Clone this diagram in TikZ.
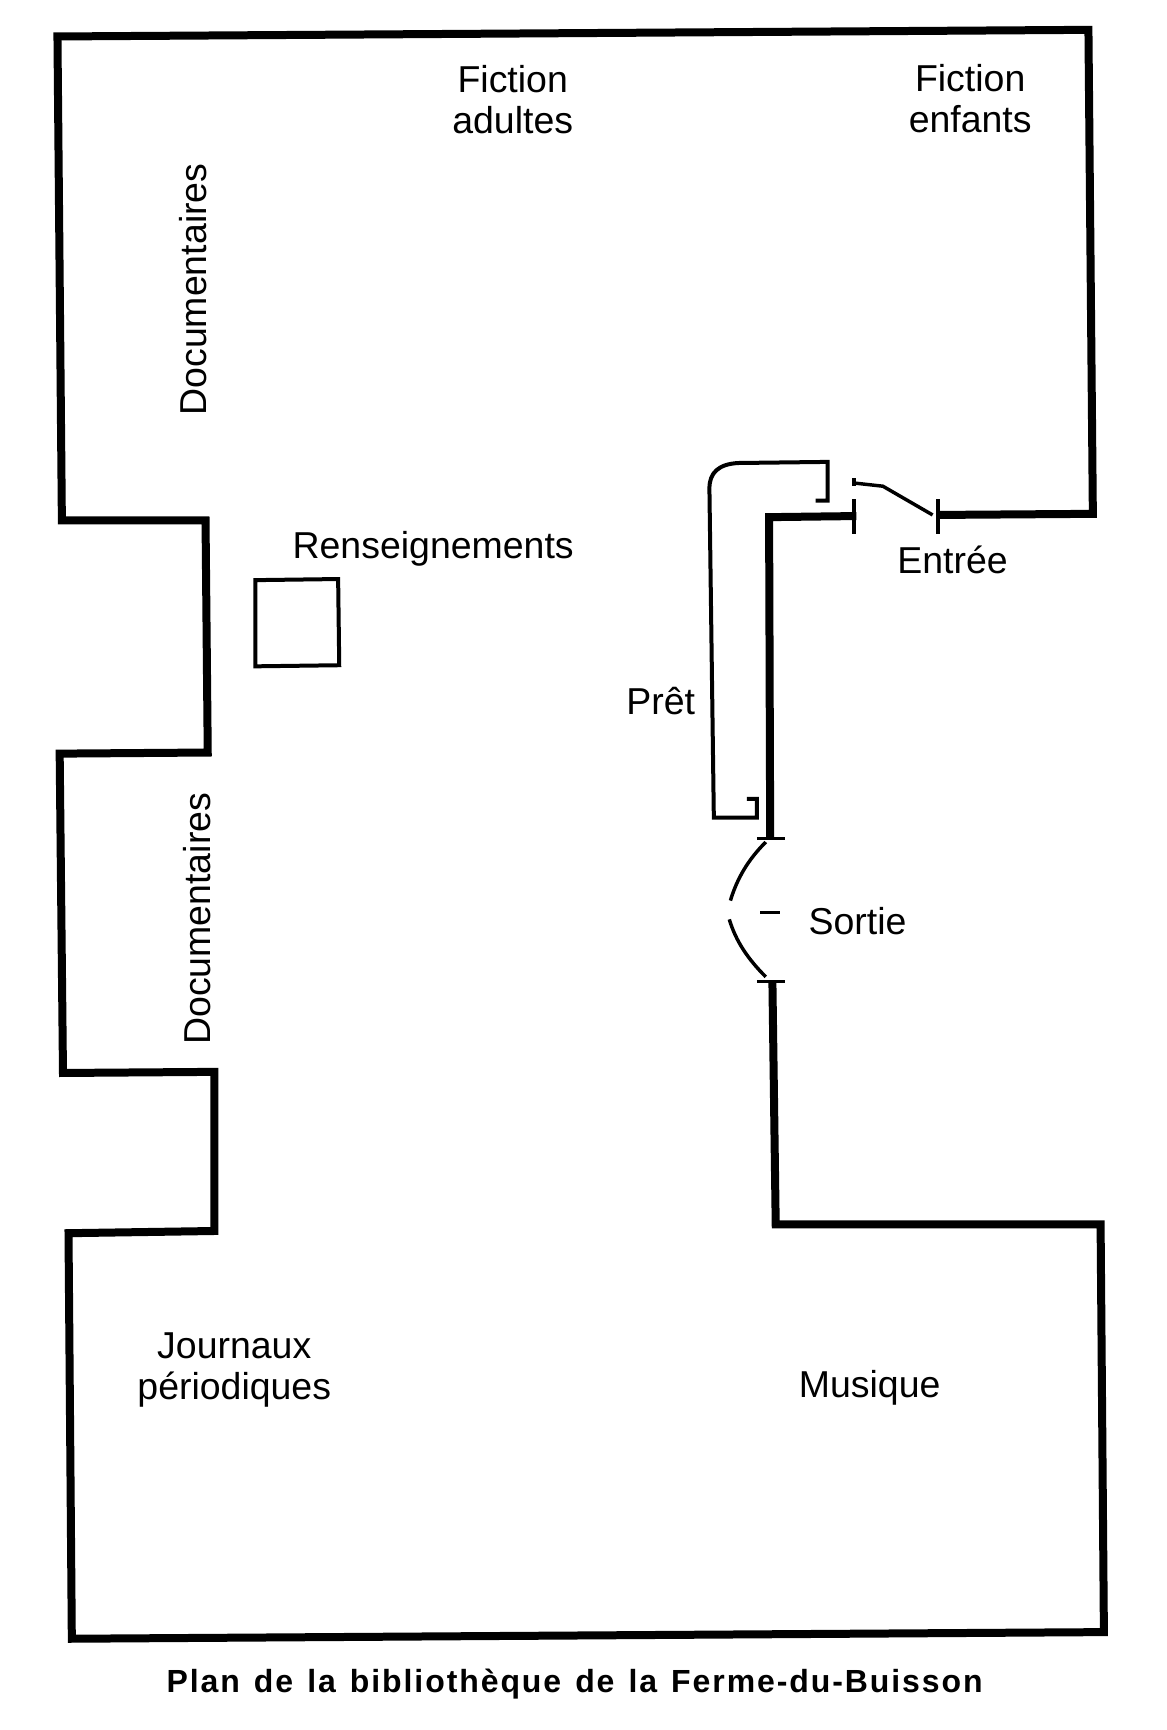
\documentclass[tikz,border=0pt]{standalone}
\usepackage{fontspec}
\setmainfont{Liberation Sans}
\newfontfamily\titlefont[LetterSpace=6,WordSpace=1.3]{Liberation Sans}
\begin{document}
\begin{tikzpicture}[x=0.829pt,y=-0.829pt,
  wall/.style={line width=6pt,miter limit=10},
  wallthin/.style={line width=3pt},
  fine/.style={line width=2.6pt},
  label/.style={font=\fontsize{28.1pt}{31pt}\selectfont,align=center,inner sep=0pt,text=black}]
\useasboundingbox (0,0) rectangle (1056,1565.6);
% outer walls
\draw[wall] (849,466) -- (989,465) -- (985,27) -- (52,33) -- (56,471) -- (186,471) -- (188,681)
  -- (54,682) -- (57,971) -- (194,970) -- (194,1114) -- (62,1116) -- (65,1483) -- (999,1477)
  -- (996,1108) -- (702,1108) -- (699,888);
\draw[wall] (775,467) -- (696,468) -- (697,758);
% door jambs
\draw[fine] (773,452) -- (773,483);
\draw[fine] (849,452) -- (849,483);
\draw[fine] (685,759) -- (710,759);
\draw[fine] (685,888) -- (710,888);
% entrance door
\draw[fine] (773,433) -- (773,440);
\draw[fine] (772,437) -- (799,440) -- (844,466);
% lending desk
\draw[wallthin] (738,453) -- (749,453) -- (749,418) -- (668,419) .. controls (650,420) and (642,428) .. (642,442)
  -- (646,740) -- (685,740) -- (685,723) -- (676,723);
% exit doors
\draw[fine] (693,762) .. controls (677,778) and (667,795) .. (661,815);
\draw[fine] (660,832) .. controls (666,852) and (677,868) .. (693,884);
\draw[fine] (688,826) -- (706,826);
% information desk
\draw[wallthin] (231,525) -- (306,524) -- (307,602) -- (231,603) -- cycle;
% labels
\node[label] (fa) at (464,90) {Fiction\\adultes};
\node[label] (fe) at (878,89) {Fiction\\enfants};
\node[label,rotate=90] (d1) at (175,262) {Documentaires};
\node[label,rotate=90] (d2) at (178,831.5) {Documentaires};
\node[label] (re) at (392,497) {Renseignements};
\node[label] (en) at (862,507) {Entrée};
\node[label] (pr) at (598,634) {Prêt};
\node[label] (so) at (776,833.5) {Sortie};
\node[label] (jo) at (212,1240) {Journaux\\périodiques};
\node[label] (mu) at (787,1256) {Musique};
\node[inner sep=0pt,font=\titlefont\fontsize{24pt}{26pt}\bfseries\selectfont] (ti) at (520,1524) {Plan de la bibliothèque de la Ferme-du-Buisson};
\end{tikzpicture}
\end{document}
